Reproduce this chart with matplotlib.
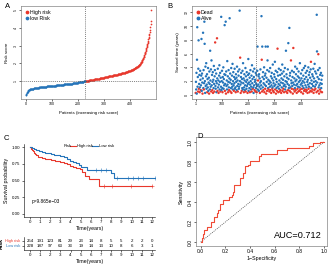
import numpy as np
import matplotlib.pyplot as plt
from matplotlib.lines import Line2D

plt.rcParams['font.family'] = ['Liberation Sans', 'DejaVu Sans']
plt.rcParams['axes.linewidth'] = 0.4
plt.rcParams['xtick.major.width'] = 0.4
plt.rcParams['ytick.major.width'] = 0.4
plt.rcParams['xtick.major.size'] = 1.5
plt.rcParams['ytick.major.size'] = 1.5
plt.rcParams['xtick.major.pad'] = 1
plt.rcParams['ytick.major.pad'] = 1

RED = '#E8372C'
BLUE = '#2474BA'

# ---- data ----
# risk score of every patient, sorted (low risk group then high risk group)
risk_low = [
    0.21, 0.24, 0.28, 0.32, 0.35, 0.38, 0.41, 0.43, 0.45, 0.47, 0.48, 0.49, 0.50, 0.51, 0.52, 0.53, 0.53, 0.54, 0.54, 0.55,
    0.55, 0.56, 0.56, 0.56, 0.57, 0.57, 0.57, 0.58, 0.58, 0.58, 0.59, 0.59, 0.59, 0.59, 0.60, 0.60, 0.60, 0.60, 0.61, 0.61,
    0.61, 0.61, 0.62, 0.62, 0.62, 0.62, 0.63, 0.63, 0.63, 0.63, 0.63, 0.64, 0.64, 0.64, 0.64, 0.65, 0.65, 0.65, 0.65, 0.65,
    0.66, 0.66, 0.66, 0.66, 0.66, 0.67, 0.67, 0.67, 0.67, 0.67, 0.68, 0.68, 0.68, 0.68, 0.68, 0.69, 0.69, 0.69, 0.69, 0.69,
    0.70, 0.70, 0.70, 0.70, 0.70, 0.70, 0.71, 0.71, 0.71, 0.71, 0.71, 0.71, 0.72, 0.72, 0.72, 0.72, 0.72, 0.72, 0.73, 0.73,
    0.73, 0.73, 0.73, 0.73, 0.74, 0.74, 0.74, 0.74, 0.74, 0.74, 0.75, 0.75, 0.75, 0.75, 0.75, 0.75, 0.76, 0.76, 0.76, 0.76,
    0.76, 0.76, 0.77, 0.77, 0.77, 0.77, 0.77, 0.77, 0.78, 0.78, 0.78, 0.78, 0.78, 0.78, 0.79, 0.79, 0.79, 0.79, 0.79, 0.79,
    0.80, 0.80, 0.80, 0.80, 0.80, 0.80, 0.81, 0.81, 0.81, 0.81, 0.81, 0.81, 0.82, 0.82, 0.82, 0.82, 0.82, 0.82, 0.83, 0.83,
    0.83, 0.83, 0.83, 0.83, 0.84, 0.84, 0.84, 0.84, 0.84, 0.85, 0.85, 0.85, 0.85, 0.85, 0.86, 0.86, 0.86, 0.86, 0.86, 0.87,
    0.87, 0.87, 0.87, 0.87, 0.88, 0.88, 0.88, 0.88, 0.88, 0.89, 0.89, 0.89, 0.89, 0.90, 0.90, 0.90, 0.90, 0.91, 0.91, 0.91,
    0.91, 0.92, 0.92, 0.92, 0.92, 0.93, 0.93, 0.93, 0.93, 0.94, 0.94, 0.94, 0.95, 0.95, 0.95, 0.95, 0.96, 0.96, 0.96, 0.97,
    0.97, 0.97, 0.98, 0.98, 0.98, 0.99, 0.99, 0.99,
]
risk_high = [
    1.00, 1.00, 1.00, 1.01, 1.01, 1.01, 1.01, 1.02, 1.02, 1.02, 1.02, 1.03, 1.03, 1.03, 1.03, 1.04, 1.04, 1.04, 1.04, 1.05,
    1.05, 1.05, 1.05, 1.06, 1.06, 1.06, 1.06, 1.07, 1.07, 1.07, 1.07, 1.08, 1.08, 1.08, 1.08, 1.09, 1.09, 1.09, 1.09, 1.10,
    1.10, 1.10, 1.10, 1.11, 1.11, 1.11, 1.11, 1.12, 1.12, 1.12, 1.13, 1.13, 1.13, 1.14, 1.14, 1.14, 1.15, 1.15, 1.15, 1.16,
    1.16, 1.16, 1.17, 1.17, 1.17, 1.18, 1.18, 1.18, 1.19, 1.19, 1.19, 1.20, 1.20, 1.20, 1.21, 1.21, 1.21, 1.22, 1.22, 1.22,
    1.23, 1.23, 1.23, 1.24, 1.24, 1.24, 1.25, 1.25, 1.25, 1.26, 1.26, 1.26, 1.27, 1.27, 1.27, 1.28, 1.28, 1.28, 1.29, 1.29,
    1.29, 1.30, 1.30, 1.30, 1.31, 1.31, 1.31, 1.32, 1.32, 1.32, 1.33, 1.33, 1.33, 1.34, 1.34, 1.34, 1.35, 1.35, 1.35, 1.36,
    1.36, 1.36, 1.37, 1.37, 1.37, 1.38, 1.38, 1.38, 1.39, 1.39, 1.39, 1.40, 1.40, 1.40, 1.41, 1.41, 1.42, 1.42, 1.42, 1.43,
    1.43, 1.44, 1.44, 1.44, 1.45, 1.45, 1.46, 1.46, 1.46, 1.47, 1.47, 1.48, 1.48, 1.48, 1.49, 1.49, 1.50, 1.50, 1.51, 1.51,
    1.52, 1.52, 1.53, 1.53, 1.54, 1.54, 1.55, 1.55, 1.56, 1.56, 1.57, 1.57, 1.58, 1.58, 1.59, 1.60, 1.60, 1.61, 1.62, 1.62,
    1.63, 1.64, 1.64, 1.65, 1.66, 1.67, 1.67, 1.68, 1.69, 1.70, 1.71, 1.72, 1.73, 1.74, 1.75, 1.76, 1.77, 1.78, 1.79, 1.80,
    1.81, 1.82, 1.83, 1.85, 1.86, 1.87, 1.89, 1.90, 1.92, 1.93, 1.95, 1.97, 1.99, 2.01, 2.03, 2.05, 2.08, 2.10, 2.13, 2.16,
    2.19, 2.22, 2.25, 2.29, 2.33, 2.37, 2.41, 2.46, 2.51, 2.56, 2.61, 2.66, 2.71, 2.76, 2.81, 2.86, 2.92, 2.98, 3.04, 3.10,
    3.16, 3.22, 3.28, 3.35, 3.42, 3.50, 3.58, 3.66, 3.75, 3.90, 4.05, 4.20, 4.40, 5.00,
]

# survival time (years) of every patient in the same order
surv_time = [
    0.3, 1.9, 0.8, 3.2, 0.2, 5.1, 9.8, 1.2, 2.6, 0.5, 3.8, 7.9, 0.9, 1.6, 2.9, 0.4, 1.1, 3.5, 2.2, 0.7,
    1.4, 2.8, 8.1, 0.6, 3.1, 1.8, 0.2, 2.4, 9.0, 1.0, 3.6, 0.8, 1.7, 10.6, 7.4, 2.0, 0.3, 4.1, 1.3, 2.7,
    4.6, 0.9, 1.5, 3.0, 0.4, 2.3, 1.1, 3.9, 0.6, 1.8, 2.5, 0.2, 3.4, 1.6, 0.8, 6.4, 2.1, 1.2, 3.7, 0.5,
    5.0, 1.4, 2.9, 0.7, 1.9, 3.3, 0.3, 2.2, 1.0, 4.2, 1.6, 0.5, 2.7, 3.6, 7.6, 1.3, 0.9, 2.0, 3.1, 0.4,
    1.7, 8.2, 2.4, 0.6, 3.8, 1.1, 2.1, 0.3, 1.5, 2.8, 4.3, 0.8, 1.9, 3.2, 0.5, 2.5, 1.2, 11.3, 0.7, 2.0,
    3.5, 1.0, 0.4, 2.6, 1.8, 4.0, 0.9, 2.3, 1.4, 3.0, 10.1, 0.6, 1.6, 2.9, 10.6, 0.2, 3.4, 1.3, 2.1, 0.8,
    4.9, 1.5, 2.7, 0.4, 1.9, 3.6, 1.1, 0.7, 2.4, 11.1, 1.8, 3.1, 0.5, 2.2, 1.0, 3.9, 0.3, 1.6, 2.8, 1.2,
    4.5, 0.8, 2.0, 3.3, 1.4, 0.6, 2.6, 1.7, 3.8, 0.9, 2.3, 1.1, 0.4, 3.0, 1.9, 2.5, 0.7, 4.1, 1.3, 2.1,
    0.5, 3.4, 1.6, 2.8, 0.9, 1.2, 3.7, 12.2, 2.0, 5.4, 1.5, 0.3, 2.6, 3.2, 1.8, 0.6, 2.3, 1.0, 3.5, 0.8,
    4.6, 1.7, 2.4, 0.4, 1.1, 3.0, 2.1, 0.7, 1.4, 3.9, 0.5, 2.7, 1.9, 0.9, 3.3, 1.3, 2.2, 0.3, 1.6, 2.9,
    5.2, 0.6, 1.8, 3.1, 1.0, 2.5, 0.4, 1.5, 3.6, 2.0, 0.8, 1.2, 2.8, 0.5, 4.3, 1.7, 2.3, 0.9, 3.4, 1.1,
    0.3, 2.6, 1.4, 3.8, 0.7, 1.9, 2.2, 0.5, 3.2, 1.0, 1.6, 2.9, 0.4, 1.3, 3.5, 7.0, 0.8, 2.1, 1.5, 2.7,
    0.6, 3.0, 1.2, 2.4, 0.3, 1.8, 3.7, 0.9, 2.0, 1.4, 11.4, 5.1, 0.5, 7.0, 2.6, 1.1, 3.3, 0.7, 1.7, 2.3,
    4.0, 0.4, 1.5, 2.8, 0.9, 3.1, 7.0, 1.3, 0.2, 2.5, 1.9, 0.6, 3.6, 5.0, 7.0, 1.0, 2.2, 0.8, 1.6, 3.4,
    0.5, 2.0, 1.2, 3.9, 0.7, 1.8, 2.7, 0.3, 1.4, 3.2, 2.4, 0.9, 1.1, 4.4, 0.6, 2.1, 1.7, 0.4, 3.0, 1.3,
    2.6, 4.8, 0.8, 1.5, 3.5, 0.2, 2.3, 1.0, 1.9, 0.6, 3.3, 6.7, 1.2, 2.8, 0.4, 1.6, 3.8, 0.9, 2.1, 0.5,
    1.4, 2.9, 0.7, 3.6, 1.8, 0.3, 2.4, 1.1, 3.1, 4.4, 0.6, 1.7, 2.2, 0.9, 3.4, 1.3, 0.4, 2.7, 1.5, 3.9,
    0.8, 2.0, 1.2, 6.4, 0.5, 3.0, 1.9, 2.5, 0.3, 1.6, 3.7, 0.7, 7.5, 2.3, 1.0, 1.4, 9.7, 0.6, 2.8, 3.2,
    1.1, 0.4, 5.0, 2.1, 1.7, 0.9, 3.5, 1.3, 2.6, 0.2, 1.8, 6.8, 0.8, 3.3, 1.5, 2.4, 0.5, 1.0, 4.1, 2.0,
    0.7, 3.0, 1.4, 2.2, 0.3, 3.8, 1.6, 0.9, 2.7, 1.2, 0.5, 3.4, 1.9, 2.5, 0.6, 1.1, 4.6, 2.1, 0.8, 1.5,
    3.1, 0.4, 2.4, 1.7, 0.9, 3.6, 1.3, 2.0, 0.2, 2.8, 1.0, 3.9, 0.6, 1.8, 2.3, 0.8, 4.2, 1.4, 3.2, 0.5,
    2.6, 1.1, 0.7, 3.5, 1.9, 0.3, 2.2, 1.5, 4.0, 0.9, 2.9, 1.2, 0.4, 3.3, 1.7, 2.5, 0.6, 3.7, 4.8, 1.0,
    2.1, 0.5, 1.6, 3.0, 0.8, 2.7, 1.3, 3.8, 0.3, 1.9, 2.4, 0.7, 4.5, 1.2, 3.4, 0.9, 2.0, 1.5, 3.1, 0.4,
    11.6, 6.3, 1.8, 2.6, 0.6, 3.6, 5.9, 1.1, 2.3, 0.2, 1.4, 3.9, 0.8, 2.9, 1.7, 0.5, 3.2, 1.0, 2.2, 1.6,
    0.4, 2.8,
]
# positions (0-based) of the patients who died
dead_idx = [
    0, 9, 12, 15, 19, 26, 31, 44, 51, 59, 63, 66, 71, 74, 81, 83, 87, 94, 102, 111,
    115, 123, 127, 132, 136, 145, 152, 160, 169, 171, 175, 183, 190, 197, 206, 213, 217, 224, 227,
    232, 237, 244, 251, 252, 257, 261, 264, 268, 271, 277, 280, 284, 287, 291, 294, 297, 302, 305,
    309, 311, 314, 319, 322, 325, 330, 333, 336, 344, 348, 351, 357, 361, 362, 365, 369, 371, 372,
    376, 380, 384, 387, 390, 394, 398, 401, 404, 408, 412, 415, 419, 422, 425, 429, 432, 436, 438,
    441, 444, 448, 451, 455, 459, 464, 466, 469, 472, 475, 480,
]

# Kaplan-Meier steps
km_time_high = [0, 0.1, 0.2, 0.3, 0.4, 0.5, 0.6, 0.8, 1.0, 1.2, 1.5, 1.8, 2.1, 2.5, 2.8, 3.0, 3.3,
                3.6, 3.9, 4.2, 4.5, 4.9, 5.1, 5.4, 5.8, 6.8, 12.0]
km_surv_high = [1.0, 0.98, 0.96, 0.94, 0.92, 0.90, 0.88, 0.86, 0.85, 0.84, 0.83, 0.82, 0.81, 0.80, 0.79,
                0.78, 0.77, 0.75, 0.72, 0.70, 0.69, 0.67, 0.63, 0.57, 0.53, 0.42, 0.42]
km_time_low = [0, 0.2, 0.4, 0.6, 0.9, 1.2, 1.5, 1.8, 2.1, 2.4, 2.7, 3.0, 3.3, 3.6, 3.9, 4.2, 4.5, 4.8,
               5.0, 5.6, 7.7, 8.0, 8.3, 12.3]
km_surv_low = [1.0, 0.99, 0.98, 0.96, 0.95, 0.93, 0.92, 0.91, 0.90, 0.89, 0.88, 0.87, 0.85, 0.83, 0.80,
               0.78, 0.76, 0.73, 0.70, 0.66, 0.66, 0.61, 0.54, 0.54]
censor_high = [7.3, 8.1, 9.9, 12.0]
censor_low = [6.5, 7.0, 7.5, 8.6, 9.6, 10.1, 10.6, 11.1, 12.3]

table_times = list(range(13))
n_high = [254, 191, 123, 81, 29, 23, 14, 8, 5, 5, 2, 2, 0]
n_low = [228, 187, 97, 63, 33, 19, 14, 13, 10, 8, 6, 3, 1]

# ROC curve
roc_fpr = [0, 0.01, 0.02, 0.03, 0.05, 0.08, 0.11, 0.13, 0.14, 0.16, 0.18, 0.22, 0.23, 0.25, 0.26, 0.27,
           0.30, 0.32, 0.34, 0.35, 0.36, 0.38, 0.40, 0.45, 0.47, 0.49, 0.61, 0.62, 0.70, 0.88, 0.91, 0.97, 1.0]
roc_tpr = [0, 0.04, 0.08, 0.12, 0.15, 0.20, 0.25, 0.29, 0.32, 0.38, 0.42, 0.42, 0.45, 0.47, 0.50, 0.57,
           0.57, 0.64, 0.69, 0.69, 0.76, 0.77, 0.81, 0.81, 0.86, 0.88, 0.88, 0.92, 0.94, 0.96, 0.99, 1.0, 1.0]
auc_value = 0.712

W, H = 328, 267
fig = plt.figure(figsize=(W / 100, H / 100), dpi=100)


def px_axes(left, top, right, bottom):
    return fig.add_axes([left / W, (H - bottom) / H, (right - left) / W, (bottom - top) / H])


TICK = 2.6
LAB = 3.2

# ============ A: risk score ============
axA = px_axes(21, 6, 156, 99)
risk = np.array(risk_low + risk_high)
pid = np.arange(1, len(risk) + 1)
n_lo = len(risk_low)
axA.scatter(pid[n_lo:], risk[n_lo:], s=1.5, color=RED, lw=0, label='High risk')
axA.scatter(pid[:n_lo], risk[:n_lo], s=1.5, color=BLUE, lw=0, label='low Risk')
axA.axvline(n_lo + 0.5, color='#555555', ls=(0, (1.5, 1.5)), lw=0.5)
axA.axhline(np.median(risk), color='#555555', ls=(0, (1.5, 1.5)), lw=0.5)
axA.set_xlim(-18, 501)
axA.set_ylim(-0.01, 5.23)
axA.set_xticks([0, 100, 200, 300, 400])
axA.set_yticks([1, 2, 3, 4, 5])
axA.tick_params(labelsize=TICK)
for t in axA.get_yticklabels():
    t.set_rotation(90)
    t.set_va('center')
axA.set_xlabel('Patients (increasing risk score)', fontsize=LAB, labelpad=3)
axA.set_ylabel('Risk score', fontsize=LAB, labelpad=3)
axA.legend(loc='upper left', fontsize=3.8, frameon=False, markerscale=2.2, handletextpad=0.2,
           borderaxespad=0.3, labelspacing=0.2, handlelength=0.8)
for s in axA.spines.values():
    s.set_color('#666666')

# ============ B: survival status ============
axB = px_axes(192, 6, 327, 99)
stime = np.array(surv_time)
is_dead = np.zeros(len(stime), dtype=bool)
is_dead[dead_idx] = True
cols = np.where(is_dead, RED, BLUE)
axB.scatter(pid, stime, s=3.0, c=cols, lw=0)
axB.axvline(n_lo + 0.5, color='#555555', ls=(0, (1.5, 1.5)), lw=0.5)
axB.set_xlim(-13, 500)
axB.set_ylim(-0.58, 12.87)
axB.set_xticks([1, 100, 200, 300, 400])
axB.set_yticks([0, 2, 4, 6, 8, 10, 12])
axB.tick_params(labelsize=TICK)
for t in axB.get_yticklabels():
    t.set_rotation(90)
    t.set_va('center')
axB.set_xlabel('Patients (increasing risk score)', fontsize=LAB, labelpad=3)
axB.set_ylabel('Survival time (years)', fontsize=LAB, labelpad=3)
handlesB = [Line2D([], [], marker='o', ls='', color=RED, ms=1.8, label='Dead'),
            Line2D([], [], marker='o', ls='', color=BLUE, ms=1.8, label='Alive')]
axB.legend(handles=handlesB, loc='upper left', fontsize=3.8, frameon=False, handletextpad=0.2,
           borderaxespad=0.3, labelspacing=0.2, handlelength=0.8)
for s in axB.spines.values():
    s.set_color('#666666')

# ============ C: Kaplan-Meier ============
axC = px_axes(24, 144, 155, 217)
axC.step(km_time_high, km_surv_high, where='post', color=RED, lw=0.8)
axC.step(km_time_low, km_surv_low, where='post', color=BLUE, lw=0.8)


def surv_at(times, surv, t):
    i = np.searchsorted(times, t, side='right') - 1
    return np.array(surv)[i]


axC.plot(censor_high, surv_at(km_time_high, km_surv_high, censor_high), ls='', marker='+',
         color=RED, ms=2.2, mew=0.4)
axC.plot(censor_low, surv_at(km_time_low, km_surv_low, censor_low), ls='', marker='+',
         color=BLUE, ms=2.2, mew=0.4)
axC.set_xlim(-0.59, 12.3)
axC.set_ylim(-0.05, 1.05)
axC.set_xticks(table_times)
axC.set_yticks([0, 0.25, 0.5, 0.75, 1.0])
axC.set_yticklabels(['0.00', '0.25', '0.50', '0.75', '1.00'])
axC.tick_params(labelsize=3.2)
axC.spines['top'].set_visible(False)
axC.spines['right'].set_visible(False)
axC.set_xlabel('Time(years)', fontsize=3.8, labelpad=1)
axC.set_ylabel('Survival probability', fontsize=3.8, labelpad=2)
axC.text(0.2, 0.19, 'p=9.865e\u221203', fontsize=3.4, va='center')

# legend line on top
fig.text(64 / W, 1 - 146 / H, 'Risk', fontsize=3.0, va='center')
fig.add_artist(Line2D([70 / W, 76 / W], [1 - 146 / H] * 2, color=RED, lw=0.8))
fig.text(77 / W, 1 - 146 / H, 'High risk', fontsize=3.0, va='center')
fig.add_artist(Line2D([92 / W, 98 / W], [1 - 146 / H] * 2, color=BLUE, lw=0.8))
fig.text(99 / W, 1 - 146 / H, 'Low risk', fontsize=3.0, va='center')

# risk table
axT = px_axes(24, 237, 155, 250)
for t, nh, nl in zip(table_times, n_high, n_low):
    axT.text(t, 1, str(nh), fontsize=3.2, ha='center', va='center')
    axT.text(t, 0, str(nl), fontsize=3.2, ha='center', va='center')
axT.set_xlim(-0.59, 12.3)
axT.set_ylim(-0.85, 1.75)
axT.set_xticks(table_times)
axT.set_yticks([1, 0])
axT.set_yticklabels(['High risk', 'Low risk'])
axT.get_yticklabels()[0].set_color(RED)
axT.get_yticklabels()[1].set_color(BLUE)
axT.tick_params(axis='x', labelsize=3.2)
axT.tick_params(axis='y', labelsize=2.8)
axT.spines['top'].set_visible(False)
axT.spines['right'].set_visible(False)
axT.set_xlabel('Time(years)', fontsize=3.8, labelpad=1)
axT.set_ylabel('Risk', fontsize=3.8, labelpad=1, fontweight='bold')

# ============ D: ROC ============
axD = px_axes(196, 137, 327, 246)
axD.plot([0, 1], [0, 1], color='#444444', ls=(0, (1.5, 1.5)), lw=0.5)
axD.step(roc_fpr, roc_tpr, where='post', color='#F04A36', lw=0.8)
axD.set_xlim(-0.038, 1.024)
axD.set_ylim(-0.04, 1.05)
axD.set_xticks([0, 0.2, 0.4, 0.6, 0.8, 1.0])
axD.set_yticks([0, 0.2, 0.4, 0.6, 0.8, 1.0])
axD.xaxis.set_major_formatter(plt.FormatStrFormatter('%.1f'))
axD.yaxis.set_major_formatter(plt.FormatStrFormatter('%.1f'))
axD.tick_params(labelsize=3.6)
for t in axD.get_yticklabels():
    t.set_rotation(90)
    t.set_va('center')
axD.set_xlabel('1\u2212Specificity', fontsize=3.8, labelpad=1)
axD.set_ylabel('Sensitivity', fontsize=3.8, labelpad=3)
axD.text(0.98, 0.06, f'AUC={auc_value:.3f}', fontsize=6.6, ha='right', va='center')
for s in axD.spines.values():
    s.set_color('#666666')

# panel letters
fig.text(5 / W, 1 - 6 / H, 'A', fontsize=5.5, va='center')
fig.text(167 / W, 1 - 6 / H, 'B', fontsize=5.5, va='center')
fig.text(4 / W, 1 - 138 / H, 'C', fontsize=5.5, va='center')
fig.text(197 / W, 1 - 136 / H, 'D', fontsize=5.5, va='center')

fig.savefig('out.png', dpi=100, facecolor='white')
